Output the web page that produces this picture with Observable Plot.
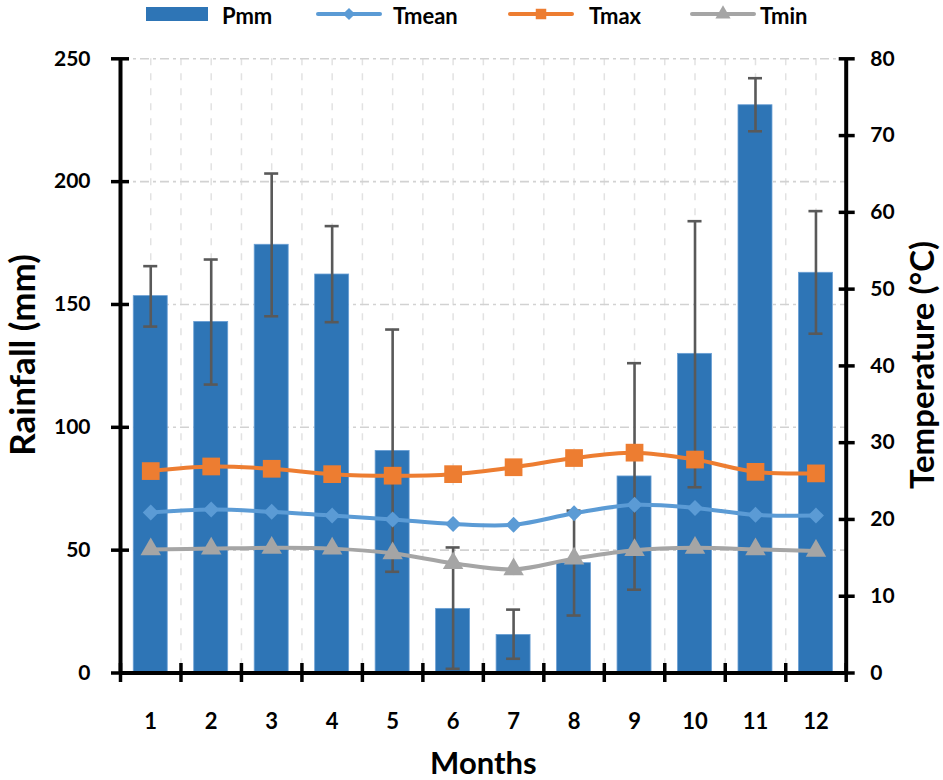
<!DOCTYPE html>
<html>
<head>
<meta charset="utf-8">
<script src="https://cdn.jsdelivr.net/npm/d3@7"></script>
<script src="https://cdn.jsdelivr.net/npm/@observablehq/plot@0.6"></script>
<style>
  html, body { margin: 0; padding: 0; background: #fff; }
  body { width: 943px; height: 780px; overflow: hidden; font-family: Lato, "Open Sans", sans-serif; }
  #legend { position: relative; height: 30px; width: 943px; font: 700 22px Lato, sans-serif; color: #000; }
  .lg { position: absolute; top: 3px; height: 26px; display: flex; align-items: center; }
  .lg svg { display: block; }
  .lg span { line-height: 26px; }
  #chart svg text { font-family: Lato, sans-serif; font-weight: 700; }
</style>
</head>
<body>
<div id="legend"></div>
<div id="chart"></div>
<script>
// ---- data ----
const months = [1, 2, 3, 4, 5, 6, 7, 8, 9, 10, 11, 12];
const pmm     = [153.4, 142.9, 174.3, 162.2, 90.4, 26.1, 15.5, 44.7, 80.0, 129.9, 231.1, 162.9];
const pmmLow  = [141.0, 117.4, 145.2, 142.8, 41.2, 1.7, 5.8, 23.4, 33.9, 75.6, 220.5, 138.1];
const pmmHigh = [165.6, 168.3, 203.3, 181.9, 139.8, 51.1, 25.8, 66.1, 126.1, 183.9, 242.1, 188.0];
const tmean = [20.9, 21.3, 21.0, 20.5, 20.0, 19.4, 19.3, 20.8, 21.9, 21.5, 20.6, 20.5];
const tmax  = [26.3, 26.9, 26.6, 25.9, 25.7, 25.9, 26.8, 28.0, 28.7, 27.8, 26.2, 26.0];
const tmin  = [16.1, 16.2, 16.3, 16.2, 15.6, 14.3, 13.5, 14.9, 16.0, 16.3, 16.1, 15.9];
const rainTicks = [0, 50, 100, 150, 200, 250];
const tempTicks = [0, 10, 20, 30, 40, 50, 60, 70, 80];
const seriesNames = ["Pmm", "Tmean", "Tmax", "Tmin"];

// ---- styling ----
const C = { bar: "#2e75b6", barEdge: "#6a9fd4", mean: "#5b9bd5", max: "#ed7d31", min: "#a5a5a5", err: "#595959" };
const RAIN_MAX = 250, TEMP_MAX = 80, k = RAIN_MAX / TEMP_MAX;
const barHalf = 0.281, capHalf = 0.116;

const rows = months.map((m, i) => ({
  month: m, pmm: pmm[i], lo: pmmLow[i], hi: pmmHigh[i],
  tmean: tmean[i], tmax: tmax[i], tmin: tmin[i]
}));
const edges = d3.range(0, months.length + 1).map(i => months[0] - 0.5 + i);
const halfGrid = d3.range(1, 2 * months.length + 1).map(i => months[0] - 0.5 + i / 2);

// ---- legend (HTML above the SVG) ----
const legend = document.getElementById("legend");
function lineSwatch(color, symbolType, size) {
  const s = d3.create("svg").attr("width", 66).attr("height", 18);
  s.append("line").attr("x1", 2).attr("x2", 64).attr("y1", 9).attr("y2", 9)
    .attr("stroke", color).attr("stroke-width", 4).attr("stroke-linecap", "round");
  s.append("path").attr("transform", "translate(33,9)")
    .attr("d", d3.symbol(symbolType, size)()).attr("fill", color);
  return s.node();
}
const legendItems = [
  { name: seriesNames[0], left: 146, sw: () => { const s = d3.create("svg").attr("width", 62).attr("height", 18);
      s.append("rect").attr("x", 0).attr("y", 2).attr("width", 62).attr("height", 14).attr("fill", C.bar); return s.node(); }, gap: 14 },
  { name: seriesNames[1], left: 316, sw: () => lineSwatch(C.mean, d3.symbolDiamond2, 95), gap: 11 },
  { name: seriesNames[2], left: 508, sw: () => lineSwatch(C.max, d3.symbolSquare, 110), gap: 15 },
  { name: seriesNames[3], left: 690, sw: () => lineSwatch(C.min, d3.symbolTriangle, 100), gap: 4 }
];
for (const it of legendItems) {
  const d = document.createElement("div");
  d.className = "lg"; d.style.left = it.left + "px";
  const sw = it.sw(); sw.style.marginRight = it.gap + "px"; sw.style.marginTop = "-4px";
  d.appendChild(sw);
  const sp = document.createElement("span"); sp.textContent = it.name; d.appendChild(sp);
  legend.appendChild(d);
}

// ---- chart ----
const chart = Plot.plot({
  width: 943, height: 750,
  marginLeft: 120, marginRight: 97.3, marginTop: 28.3, marginBottom: 107.5,
  style: { fontFamily: "Lato, sans-serif", fontSize: "21px", fontWeight: 700, color: "#000", background: "#fff", overflow: "visible" },
  x: { type: "linear", domain: [edges[0], edges[edges.length - 1]], label: null },
  y: { domain: [0, RAIN_MAX], label: null },
  marks: [
    // gridlines
    Plot.ruleX(halfGrid, { stroke: "#e2e2e2", strokeWidth: 1.5, strokeDasharray: "7,8" }),
    Plot.ruleY(rainTicks.filter(t => t > 0), { stroke: "#d2d2d2", strokeWidth: 1.6, strokeDasharray: "9,4,3,4" }),
    // bars
    Plot.rectY(rows, { x1: d => d.month - barHalf, x2: d => d.month + barHalf, y: "pmm", fill: C.bar, stroke: C.barEdge, strokeWidth: 0.8 }),
    // error bars
    Plot.ruleX(rows, { x: "month", y1: "lo", y2: "hi", stroke: C.err, strokeWidth: 2.6 }),
    Plot.ruleY(rows, { y: "lo", x1: d => d.month - capHalf, x2: d => d.month + capHalf, stroke: C.err, strokeWidth: 2.6 }),
    Plot.ruleY(rows, { y: "hi", x1: d => d.month - capHalf, x2: d => d.month + capHalf, stroke: C.err, strokeWidth: 2.6 }),
    // temperature lines (right axis, scaled onto the rainfall scale)
    Plot.line(rows, { x: "month", y: d => d.tmax * k, stroke: C.max, strokeWidth: 4, curve: "catmull-rom" }),
    Plot.line(rows, { x: "month", y: d => d.tmean * k, stroke: C.mean, strokeWidth: 4, curve: "catmull-rom" }),
    Plot.line(rows, { x: "month", y: d => d.tmin * k, stroke: C.min, strokeWidth: 4, curve: "catmull-rom" }),
    Plot.dot(rows, { x: "month", y: d => d.tmax * k, symbol: "square", r: 10, fill: C.max }),
    Plot.dot(rows, { x: "month", y: d => d.tmean * k, symbol: "diamond2", r: 7.2, fill: C.mean }),
    Plot.dot(rows, { x: "month", y: d => d.tmin * k, symbol: "triangle", r: 7.6, fill: C.min }),
    // axis lines
    Plot.ruleX([edges[0], edges[edges.length - 1]], { stroke: "#000", strokeWidth: 4 }),
    Plot.ruleY([0], { stroke: "#000", strokeWidth: 4 }),
    // left axis (crossing ticks)
    Plot.axisY(rainTicks, { anchor: "left", tickSize: 18, dx: 9, tickPadding: 21, strokeWidth: 3.5, stroke: "#000", fill: "#000", fontSize: 21, label: null }),
    // right axis (temperature)
    Plot.axisY(tempTicks.map(t => t * k), { anchor: "right", tickSize: 16, dx: -8, tickPadding: 16, strokeWidth: 3.5, stroke: "#000", fill: "#000", fontSize: 21, tickFormat: v => String(Math.round(v / k)), label: null }),
    // bottom axis: crossing ticks at category edges, labels at centres
    Plot.axisX(edges, { anchor: "bottom", tickSize: 19, dy: -9.5, strokeWidth: 3.5, stroke: "#000", tickFormat: () => "", label: null }),
    Plot.axisX(months, { anchor: "bottom", tickSize: 0, tickPadding: 40, fill: "#000", fontSize: 22, tickFormat: d => String(d), label: null }),
    // axis titles
    Plot.text(["Rainfall (mm)"], { frameAnchor: "left", textAnchor: "middle", rotate: -90, dx: -97, dy: -11, lineAnchor: "middle", fontSize: 35, fontWeight: 700, fill: "#000" }),
    Plot.text(["Temperature (°C)"], { frameAnchor: "right", textAnchor: "middle", rotate: -90, dx: 77, dy: -1, lineAnchor: "middle", fontSize: 33, fontWeight: 700, fill: "#000" }),
    Plot.text(["Months"], { frameAnchor: "bottom", dy: 91, lineAnchor: "middle", fontSize: 31, fontWeight: 700, fill: "#000" })
  ]
});
document.getElementById("chart").appendChild(chart);
</script>
</body>
</html>
